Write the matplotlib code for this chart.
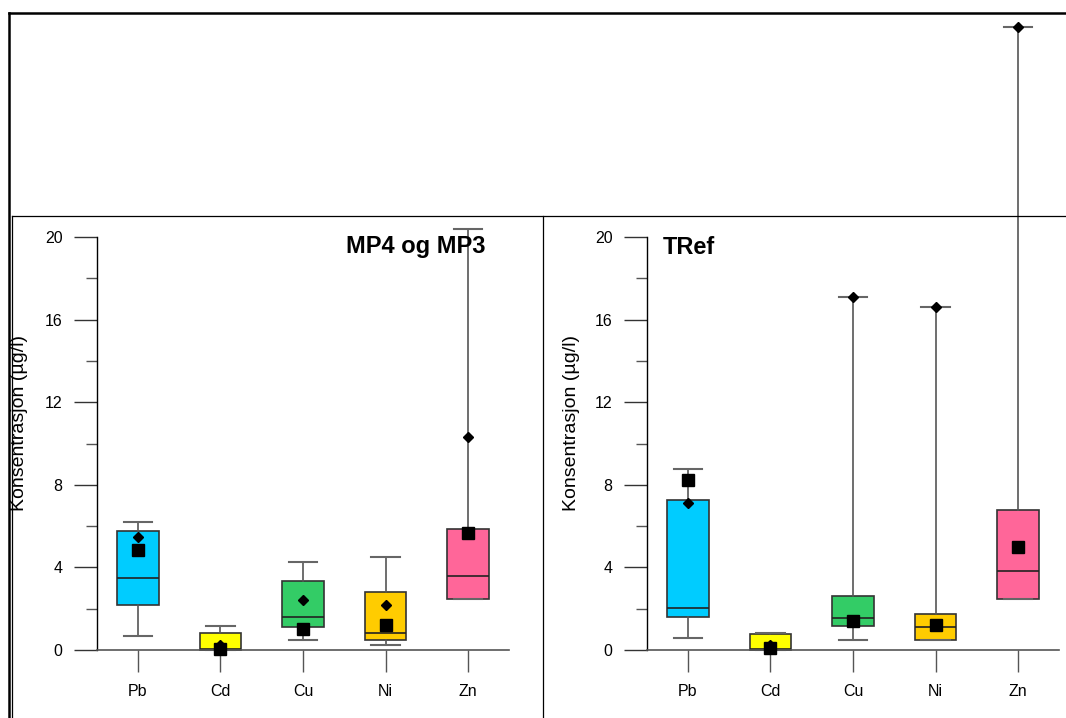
import matplotlib
matplotlib.use("Agg")
import matplotlib.pyplot as plt
from matplotlib.lines import Line2D

plt.rcParams['font.family'] = ['Liberation Sans', 'DejaVu Sans']

# ---------------- data ----------------
metals = ["Pb", "Cd", "Cu", "Ni", "Zn"]
box_colors = ["#00CCFF", "#FFFF00", "#33CC66", "#FFCC00", "#FF6699"]

# Panel 1: MP4 og MP3
mp_whislo = [0.68, 0.0, 0.48, 0.24, 2.49]
mp_q1 = [2.20, 0.0, 1.10, 0.48, 2.49]
mp_med = [3.48, 0.05, 1.58, 0.81, 3.57]
mp_q3 = [5.75, 0.81, 3.34, 2.83, 5.88]
mp_whishi = [6.22, 1.18, 4.25, 4.49, 20.4]
mp_square = [4.85, 0.05, 1.00, 1.23, 5.67]
mp_diamond = [5.46, 0.22, 2.41, 2.16, 10.3]

# Panel 2: TRef
tr_whislo = [0.60, 0.0, 0.48, 0.48, 2.49]
tr_q1 = [1.58, 0.0, 1.17, 0.48, 2.49]
tr_med = [2.04, 0.06, 1.57, 1.09, 3.83]
tr_q3 = [7.27, 0.76, 2.62, 1.76, 6.77]
tr_whishi = [8.76, 0.84, 17.1, 16.6, 30.15]
tr_square = [8.24, 0.10, 1.40, 1.21, 4.99]
tr_diamond = [7.11, 0.25, 17.1, 16.6, 30.15]

ylabel = "Konsentrasjon (\u00b5g/l)"
yticks_major = [0, 4, 8, 12, 16, 20]
yticks_minor = [2, 6, 10, 14, 18]

W, H = 1066, 718
fig = plt.figure(figsize=(W / 100, H / 100), dpi=100)


def fx(px):
    return px / W


def fy(py):
    return 1 - py / H


# frames (figure level)
fig.add_artist(Line2D([fx(9), fx(W)], [fy(12.7), fy(12.7)], color="black", lw=1.8))
fig.add_artist(Line2D([fx(9), fx(9)], [fy(12.7), fy(H)], color="black", lw=1.8))
fig.add_artist(Line2D([fx(11.5), fx(W)], [fy(215.7), fy(215.7)], color="black", lw=0.9))
fig.add_artist(Line2D([fx(11.5), fx(11.5)], [fy(215.7), fy(H)], color="black", lw=0.9))
fig.add_artist(Line2D([fx(543.3), fx(543.3)], [fy(215.7), fy(H)], color="black", lw=0.9))

ax_bottom_px, ax_top_px = 650, 237
panels = [
    dict(left=96.7, right=509.3, whislo=mp_whislo, q1=mp_q1, med=mp_med, q3=mp_q3,
         whishi=mp_whishi, sq=mp_square, di=mp_diamond, title="MP4 og MP3",
         tx=486, tha="right", ylx=19.5),
    dict(left=646.7, right=1059.3, whislo=tr_whislo, q1=tr_q1, med=tr_med, q3=tr_q3,
         whishi=tr_whishi, sq=tr_square, di=tr_diamond, title="TRef",
         tx=663, tha="left", ylx=572),
]

pos = list(range(1, len(metals) + 1))
for p in panels:
    ax = fig.add_axes([fx(p["left"]), fy(ax_bottom_px), (p["right"] - p["left"]) / W,
                       (ax_bottom_px - ax_top_px) / H])
    ax.patch.set_alpha(0)
    stats = []
    for i, m in enumerate(metals):
        stats.append(dict(label=m, whislo=p["whislo"][i], q1=p["q1"][i], med=p["med"][i],
                          q3=p["q3"][i], whishi=p["whishi"][i], fliers=[]))
    bp = ax.bxp(stats, positions=pos, widths=0.505, capwidths=0.34, patch_artist=True,
                showfliers=False, manage_ticks=False,
                boxprops=dict(edgecolor="#333333", linewidth=1.2),
                medianprops=dict(color="#222222", linewidth=1.2),
                whiskerprops=dict(color="#555555", linewidth=1.2),
                capprops=dict(color="#666666", linewidth=1.5))
    for patch, c in zip(bp["boxes"], box_colors):
        patch.set_facecolor(c)
    for art in bp["whiskers"] + bp["caps"] + bp["boxes"] + bp["medians"]:
        art.set_clip_on(False)
    ax.plot(pos, p["di"], linestyle="none", marker="D", markersize=5.5, color="black",
            clip_on=False, zorder=5)
    ax.plot(pos, p["sq"], linestyle="none", marker="s", markersize=8.3, color="black",
            clip_on=False, zorder=5)

    ax.set_xlim(0.5, 5.5)
    ax.set_ylim(0, 20)
    for s in ["top", "right"]:
        ax.spines[s].set_visible(False)
    ax.spines["left"].set_color("black")
    ax.spines["left"].set_linewidth(1.0)
    ax.spines["bottom"].set_color("#555555")
    ax.spines["bottom"].set_linewidth(1.2)
    ax.set_yticks(yticks_major)
    ax.set_yticks(yticks_minor, minor=True)
    ax.tick_params(axis="y", which="major", length=16.5, width=1.0, color="#333333",
                   pad=8, labelsize=11.5)
    ax.tick_params(axis="y", which="minor", length=7.9, width=1.0, color="#555555")
    ax.set_xticks(pos)
    ax.set_xticklabels(metals)
    ax.tick_params(axis="x", which="major", length=15.8, width=1.0, color="#555555",
                   pad=9, labelsize=11.5)
    ax.tick_params(axis="x", which="minor", bottom=False)

    fig.text(fx(p["tx"]), fy(247), p["title"], fontsize=17, fontweight="bold",
             ha=p["tha"], va="center")
    fig.text(fx(p["ylx"]), fy(423), ylabel, fontsize=14, rotation=90,
             ha="center", va="center")

fig.savefig("out.png", dpi=100)
